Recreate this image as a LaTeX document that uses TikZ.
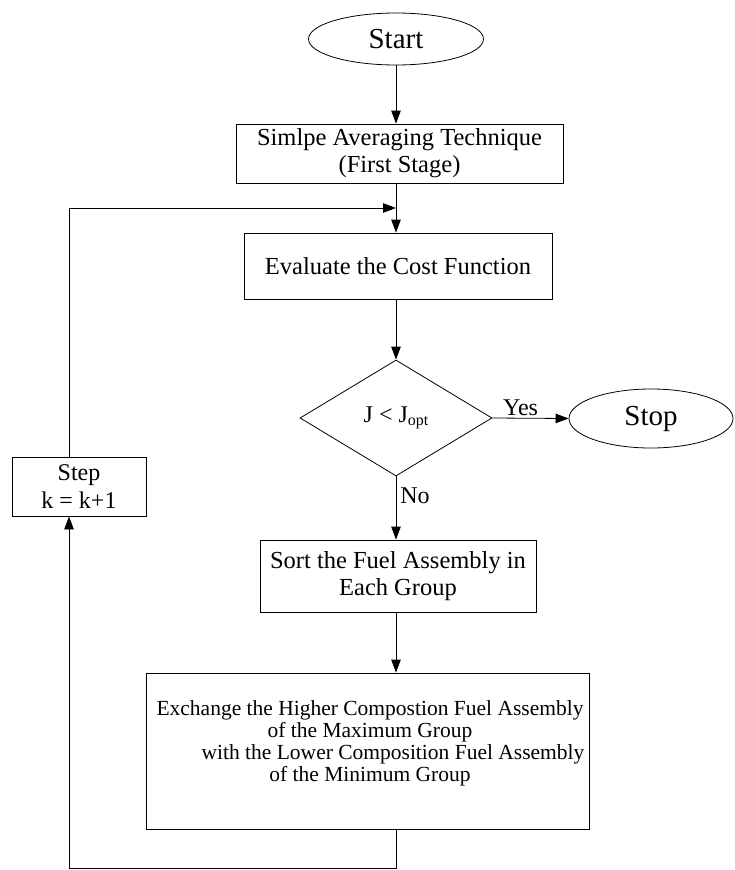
\documentclass[tikz,border=0pt]{standalone}
\usepackage{fontspec}
\setmainfont{Liberation Serif}
\usetikzlibrary{shapes.geometric,arrows.meta}
\begin{document}
\begin{tikzpicture}[x=1pt,y=-1pt,
  line width=0.8pt,
  arr/.style={-{Triangle[length=13pt,width=9.5pt]}},
  procbox/.style={draw, rectangle, inner sep=0pt, align=center, font=\fontsize{24.5}{27}\selectfont},
  term/.style={draw, ellipse, inner sep=0pt, font=\fontsize{29}{32}\selectfont},
  decision/.style={draw, diamond, inner sep=0pt, font=\fontsize{24}{27}\selectfont},
  lbl/.style={font=\fontsize{24}{27}\selectfont},
]
\useasboundingbox (0,0) rectangle (734,870);

\node[term, minimum width=175pt, minimum height=52pt] (start) at (396,39) {Start};
\node[procbox, minimum width=327pt, minimum height=59pt] (b1) at (399.5,153.5) {Simlpe Averaging Technique\\(First Stage)};
\node[procbox, minimum width=308pt, minimum height=66pt] (b2) at (398,266) {Evaluate the Cost Function};
\node[decision, minimum width=192pt, minimum height=116pt] (dec) at (396,418) {J < J\raisebox{-0.3ex}{\fontsize{16}{16}\selectfont opt}};
\node[term, minimum width=164pt, minimum height=59pt] (stop) at (651,418.5) {Stop};
\node[procbox, minimum width=276pt, minimum height=72pt] (b3) at (398,576) {Sort the Fuel Assembly in\\Each Group};
\node[procbox, minimum width=443pt, minimum height=156pt] (b4) at (367.5,751) {};
\node[align=center, inner sep=0pt, font=\fontsize{21.5}{22}\selectfont] (b4t) at (370,743)
  {Exchange the Higher Compostion Fuel Assembly\\of the Maximum Group\\\hspace*{46pt}with the Lower Composition Fuel Assembly\\of the Minimum Group};
\node[procbox, font=\fontsize{24}{28}\selectfont, minimum width=134pt, minimum height=59pt] (step) at (79,486.5) {Step\\k = k+1};

\coordinate (spine) at (396,0);
\coordinate (lp) at (69,0);
\coordinate (bot) at (396,868);
\coordinate (fb) at (396,208);

\draw[arr] (start.south) -- (start.south |- b1.north);
\draw[arr] (spine |- b1.south) -- (spine |- b2.north);
\draw[arr] (spine |- b2.south) -- (dec.north);
\draw[arr] (dec.east) -- node[lbl, pos=0.37, above, inner sep=2pt] (yes) {Yes} (stop.west);
\draw[arr] (dec.south) -- node[lbl, pos=0.3, anchor=west, inner sep=4pt] (no) {No} (spine |- b3.north);
\draw[arr] (spine |- b3.south) -- (spine |- b4.north);
\draw[arr] (spine |- b4.south) -- (bot) -| (lp |- step.south);
\draw[arr] (lp |- step.north) |- (fb);
\end{tikzpicture}
\end{document}
